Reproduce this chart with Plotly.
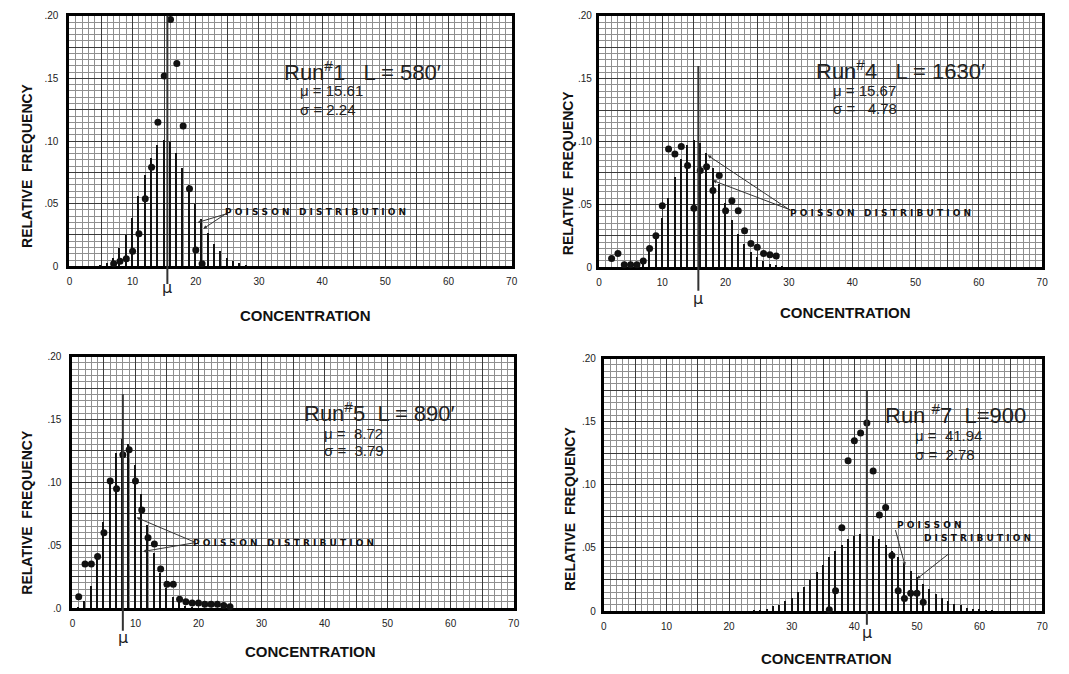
import plotly.graph_objects as go

# ---------------- data ----------------
run_titles = ["Run<sup>#</sup>1   L = 580′", "Run<sup>#</sup>4   L = 1630′",
              "Run<sup>#</sup>5  L = 890′", "Run <sup>#</sup>7  L=900"]
mu_text = ["μ = 15.61", "μ = 15.67", "μ =  8.72", "μ =  41.94"]
sigma_text = ["σ = 2.24", "σ =   4.78", "σ =  3.79", "σ =  2.78"]
mean_line_x = [15.5, 15.7, 8.0, 42.0]
mean_line_top = [0.20, 0.16, 0.17, 0.175]

# Run #1 observed
run1_conc = [7, 8, 9, 10, 11, 12, 13, 14, 15, 16, 17, 18, 19, 20, 21]
run1_freq = [0.002, 0.004, 0.006, 0.012, 0.026, 0.054, 0.079, 0.115, 0.152, 0.197,
             0.162, 0.112, 0.062, 0.013, 0.002]
# Run #1 Poisson stems
run1_pois_conc = [5, 6, 7, 8, 9, 10, 11, 12, 13, 14, 15, 16, 17, 18, 19, 20, 21, 22,
                  23, 24, 25, 26, 27, 28]
run1_pois = [0.001, 0.003, 0.007, 0.015, 0.025, 0.039, 0.056, 0.073, 0.087, 0.097,
             0.101, 0.099, 0.091, 0.079, 0.065, 0.050, 0.038, 0.027, 0.018, 0.012,
             0.007, 0.004, 0.003, 0.001]

# Run #4 observed
run4_conc = [2, 3, 4, 5, 6, 7, 8, 9, 10, 11, 12, 13, 14, 15, 16, 17, 18, 19, 20, 21,
             22, 23, 24, 25, 26, 27, 28]
run4_freq = [0.007, 0.011, 0.002, 0.002, 0.002, 0.005, 0.015, 0.025, 0.049, 0.094,
             0.090, 0.096, 0.081, 0.047, 0.077, 0.080, 0.061, 0.073, 0.045, 0.053,
             0.045, 0.029, 0.019, 0.016, 0.011, 0.010, 0.009]
run4_pois_conc = [5, 6, 7, 8, 9, 10, 11, 12, 13, 14, 15, 16, 17, 18, 19, 20, 21, 22,
                  23, 24, 25, 26, 27, 28, 29]
run4_pois = [0.001, 0.003, 0.007, 0.014, 0.025, 0.039, 0.055, 0.072, 0.086, 0.097,
             0.101, 0.099, 0.091, 0.079, 0.066, 0.051, 0.038, 0.027, 0.019, 0.012,
             0.008, 0.005, 0.003, 0.002, 0.001]

# Run #5 observed
run5_conc = [1, 2, 3, 4, 5, 6, 7, 8, 9, 10, 11, 12, 13, 14, 15, 16, 17, 18, 19, 20,
             21, 22, 23, 24, 25]
run5_freq = [0.009, 0.035, 0.035, 0.041, 0.060, 0.101, 0.095, 0.122, 0.126, 0.101,
             0.078, 0.056, 0.051, 0.031, 0.019, 0.019, 0.007, 0.005, 0.004, 0.004,
             0.003, 0.003, 0.003, 0.002, 0.001]
run5_pois_conc = [0, 1, 2, 3, 4, 5, 6, 7, 8, 9, 10, 11, 12, 13, 14, 15, 16, 17, 18, 19]
run5_pois = [0.0002, 0.001, 0.006, 0.018, 0.039, 0.069, 0.100, 0.124, 0.135, 0.131,
             0.114, 0.091, 0.066, 0.044, 0.028, 0.016, 0.009, 0.005, 0.002, 0.001]

# Run #7 observed
run7_conc = [36, 37, 38, 39, 40, 41, 42, 43, 44, 45, 46, 47, 48, 49, 50, 51]
run7_freq = [0.001, 0.016, 0.066, 0.119, 0.135, 0.141, 0.149, 0.111, 0.076, 0.082,
             0.044, 0.016, 0.010, 0.014, 0.014, 0.007]
run7_pois_conc = list(range(24, 63))
run7_pois = [0.001, 0.001, 0.002, 0.004, 0.005, 0.008, 0.011, 0.015, 0.019, 0.025,
             0.031, 0.037, 0.043, 0.048, 0.053, 0.057, 0.060, 0.061, 0.061, 0.060,
             0.057, 0.053, 0.048, 0.043, 0.038, 0.032, 0.027, 0.022, 0.018, 0.014,
             0.011, 0.008, 0.006, 0.005, 0.003, 0.002, 0.002, 0.001, 0.001]

x_tick_vals = [0, 5, 10, 15, 20, 25, 30, 35, 40, 45, 50, 55, 60, 65, 70]
x_tick_text = ["0", "", "10", "", "20", "", "30", "", "40", "", "50", "", "60", "", "70"]
y_tick_vals = [0, 0.025, 0.05, 0.075, 0.10, 0.125, 0.15, 0.175, 0.20]
y_tick_text_a = ["0", "", ".05", "", ".10", "", ".15", "", ".20"]
y_tick_text_b = [".0", "", ".05", "", ".10", "", ".15", "", ".20"]

observed = [(run1_conc, run1_freq), (run4_conc, run4_freq),
            (run5_conc, run5_freq), (run7_conc, run7_freq)]
poisson = [(run1_pois_conc, run1_pois), (run4_pois_conc, run4_pois),
           (run5_pois_conc, run5_pois), (run7_pois_conc, run7_pois)]

# ---------------- layout geometry ----------------
W, H = 1069, 674
def px_dom(a, b, size):
    return [a / size, b / size]

x_domains = [px_dom(67, 513, W), px_dom(601, 1048, W), px_dom(70, 515, W), px_dom(606, 1048, W)]
y_domains = [[1 - 265 / H, 1 - 10 / H], [1 - 266 / H, 1 - 10 / H],
             [1 - 613 / H, 1 - 357 / H], [1 - 616 / H, 1 - 359 / H]]
y_text_sets = [y_tick_text_a, y_tick_text_a, y_tick_text_b, y_tick_text_a]
y_standoff = [6, 2, 6, 3]
# pixel rows for the mean-line bottom and the mu symbol under each panel
mean_line_bottom_px = [283, 290, 636, 630]
mu_symbol_px = [287, 298, 643, 638]

FONT = "Liberation Sans"
fig = go.Figure()
layout = dict(width=W, height=H, margin=dict(l=0, r=0, t=0, b=0),
              paper_bgcolor="white", plot_bgcolor="white", showlegend=False,
              bargap=0, barmode="overlay")

annotations = []
shapes = []

for i in range(4):
    sfx = "" if i == 0 else str(i + 1)
    xa, ya = "x" + sfx, "y" + sfx
    layout["xaxis" + sfx] = dict(
        domain=x_domains[i], anchor=ya, range=[0, 70], tickmode="array",
        tickvals=x_tick_vals, ticktext=x_tick_text, ticks="", showgrid=True,
        gridcolor="#3a3a3a", gridwidth=1, zeroline=False, showline=True, mirror=True,
        linecolor="black", linewidth=3, ticklabelstandoff=4,
        tickfont=dict(family=FONT, size=10, color="#222"),
        minor=dict(tick0=0, dtick=1, showgrid=True, gridcolor="#8f8f8f", gridwidth=1),
        layer="below traces")
    layout["yaxis" + sfx] = dict(
        domain=y_domains[i], anchor=xa, range=[0, 0.2], tickmode="array",
        tickvals=y_tick_vals, ticktext=y_text_sets[i], ticks="", showgrid=True,
        gridcolor="#3a3a3a", gridwidth=1, zeroline=False, showline=True, mirror=True,
        linecolor="black", linewidth=3, ticklabelstandoff=y_standoff[i],
        tickfont=dict(family=FONT, size=10, color="#222"),
        minor=dict(tick0=0, dtick=0.005, showgrid=True, gridcolor="#8f8f8f", gridwidth=1),
        layer="below traces")

    pc, pv = poisson[i]
    fig.add_trace(go.Bar(x=pc, y=pv, width=0.24, marker=dict(color="#111", line=dict(width=0)),
                         xaxis=xa, yaxis=ya))
    oc, ov = observed[i]
    fig.add_trace(go.Scatter(x=oc, y=ov, mode="markers",
                             marker=dict(color="#111", size=7), xaxis=xa, yaxis=ya,
                             cliponaxis=False))

    y0d, y1d = y_domains[i]
    top_paper = y0d + mean_line_top[i] / 0.2 * (y1d - y0d)
    shapes.append(dict(type="line", xref=xa, yref="paper", x0=mean_line_x[i], x1=mean_line_x[i],
                       y0=1 - mean_line_bottom_px[i] / H, y1=top_paper,
                       line=dict(color="#333", width=2)))
    annotations.append(dict(xref=xa, yref="paper", x=mean_line_x[i], y=1 - mu_symbol_px[i] / H,
                            text="μ", showarrow=False, xanchor="center", yanchor="middle",
                            font=dict(family="DejaVu Sans", size=16, color="#222")))

# Run labels (x, y in data coords for each panel)
run_pos = [(33.7, 0.156), (34.0, 0.157), (36.5, 0.156), (44.5, 0.156)]
mu_pos = [(36.2, 0.140), (36.7, 0.141), (39.6, 0.139), (49.3, 0.139)]
sig_pos = [(36.2, 0.125), (36.7, 0.126), (39.6, 0.125), (49.3, 0.124)]
for i in range(4):
    sfx = "" if i == 0 else str(i + 1)
    xa, ya = "x" + sfx, "y" + sfx
    annotations.append(dict(xref=xa, yref=ya, x=run_pos[i][0], y=run_pos[i][1], text=run_titles[i],
                            showarrow=False, xanchor="left", yanchor="middle",
                            font=dict(family=FONT, size=22, color="#222")))
    annotations.append(dict(xref=xa, yref=ya, x=mu_pos[i][0], y=mu_pos[i][1], text=mu_text[i],
                            showarrow=False, xanchor="left", yanchor="middle",
                            font=dict(family=FONT, size=15, color="#222")))
    annotations.append(dict(xref=xa, yref=ya, x=sig_pos[i][0], y=sig_pos[i][1], text=sigma_text[i],
                            showarrow=False, xanchor="left", yanchor="middle",
                            font=dict(family=FONT, size=15, color="#222")))

# Poisson labels
pfont = dict(family="DejaVu Sans", size=9, color="#111")
pois_labels = [("x", "y", 39.0, 0.043, "<b>P O I S S O N   D I S T R I B U T I O N</b>"),
               ("x2", "y2", 44.4, 0.043, "<b>P O I S S O N   D I S T R I B U T I O N</b>"),
               ("x3", "y3", 33.5, 0.052, "<b>P O I S S O N   D I S T R I B U T I O N</b>"),
               ("x4", "y4", 52.0, 0.068, "<b>P O I S S O N</b>"),
               ("x4", "y4", 59.6, 0.058, "<b>D I S T R I B U T I O N</b>")]
for xa, ya, x, y, t in pois_labels:
    annotations.append(dict(xref=xa, yref=ya, x=x, y=y, text=t, showarrow=False,
                            xanchor="center", yanchor="middle", font=pfont))

arrows = [("x", "y", 20.3, 0.035, 30, -9), ("x", "y", 21.2, 0.030, 24, -16),
          ("x2", "y2", 17.2, 0.089, 84, 56), ("x2", "y2", 18.0, 0.069, 79, 30),
          ("x3", "y3", 10.2, 0.072, 59, 25), ("x3", "y3", 11.2, 0.045, 53, -9),
          ("x4", "y4", 48.1, 0.036, -10, -37), ("x4", "y4", 50.0, 0.0255, 33, -26)]
for xa, ya, x, y, ax, ay in arrows:
    annotations.append(dict(xref=xa, yref=ya, x=x, y=y, ax=ax, ay=ay, text="", showarrow=True,
                            arrowhead=2, arrowsize=0.7, arrowwidth=1, arrowcolor="#333"))

# axis titles
title_font = dict(family=FONT, size=15, color="#111")
conc_pos = [(305, 315), (850, 312), (310, 657), (830, 664)]
for (px, py) in conc_pos:
    annotations.append(dict(xref="paper", yref="paper", x=px / W, y=1 - py / H,
                            xanchor="center", yanchor="middle",
                            text="<b>CONCENTRATION</b>", showarrow=False, font=title_font))
rf_font = dict(family=FONT, size=14, color="#111")
rf_pos = [(24, 162), (570, 170), (24, 515), (572, 512)]
for (px, py) in rf_pos:
    annotations.append(dict(xref="paper", yref="paper", x=px / W, y=1 - py / H,
                            xanchor="center", yanchor="middle",
                            text="<b>RELATIVE  FREQUENCY</b>", showarrow=False,
                            textangle=-90, font=rf_font))

layout["annotations"] = annotations
layout["shapes"] = shapes
fig.update_layout(**layout)

fig.write_html("out.html", config={"displayModeBar": False},
               post_script="document.body.style.margin='0';document.body.style.overflow='hidden';")
